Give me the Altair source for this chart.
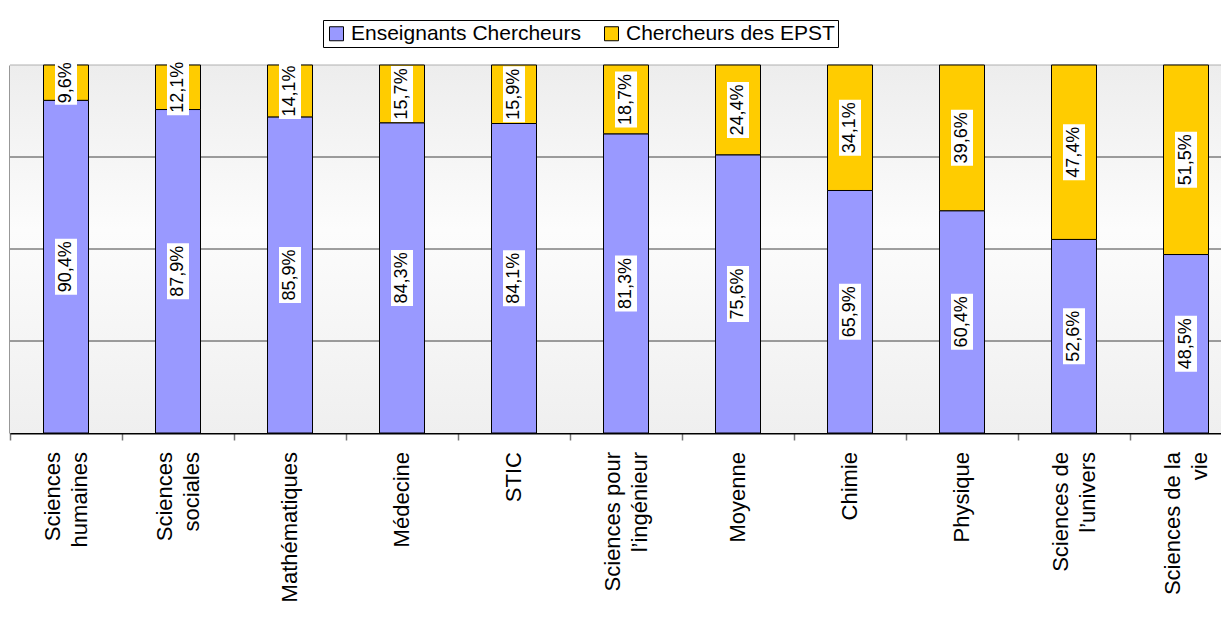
import altair as alt
import pandas as pd

categories = [
    "Sciences\nhumaines", "Sciences\nsociales", "Mathématiques", "Médecine", "STIC",
    "Sciences pour\nl’ingénieur", "Moyenne", "Chimie", "Physique",
    "Sciences de\nl’univers", "Sciences de la\nvie",
]
enseignants = [90.4, 87.9, 85.9, 84.3, 84.1, 81.3, 75.6, 65.9, 60.4, 52.6, 48.5]
epst = [9.6, 12.1, 14.1, 15.7, 15.9, 18.7, 24.4, 34.1, 39.6, 47.4, 51.5]
series = ["Enseignants Chercheurs", "Chercheurs des EPST"]
colors = ["#9999FF", "#FFCC00"]
grid_values = [25, 50, 75]

rows = []
for c, a, b in zip(categories, enseignants, epst):
    for k, (s, v) in enumerate(zip(series, [a, b])):
        rows.append({"cat": c, "series": s, "order": k, "value": v,
                     "label": f"{v:.1f}".replace(".", ",") + "%"})
df = pd.DataFrame(rows)
cat_df = pd.DataFrame({"cat": categories})

W, H = 1211, 368

xscale = alt.Scale(domain=categories, range=[0, 1232], paddingInner=0, paddingOuter=0)
yscale = alt.Scale(domain=[0, 100], nice=False)
xaxis = alt.Axis(title=None, labels=False, tickBand="extent",
                 tickSize=7, tickColor="#777777", tickWidth=1.5, domainColor="black",
                 domainWidth=2, grid=False)
yaxis = alt.Axis(title=None, labels=False, ticks=False, grid=False,
                 domainColor="#333333", domainWidth=2)

x_enc = alt.X("cat:N", scale=xscale, axis=xaxis)

gradient = alt.LinearGradient(
    gradient="linear",
    stops=[alt.GradientStop(offset=0, color="#ededed"),
           alt.GradientStop(offset=0.45, color="#fcfcfc"),
           alt.GradientStop(offset=1, color="#efefef")],
    x1=0, x2=0, y1=0, y2=1,
)

bg = alt.Chart(alt.Data(values=[{"a": 1}])).mark_rect(color=gradient).encode(
    x=alt.value(0), x2=alt.value(W), y=alt.value(0), y2=alt.value(H)
)
top_border = alt.Chart(alt.Data(values=[{"a": 1}])).mark_rule(color="#b0b0b0", strokeWidth=1).encode(
    y=alt.value(0)
)
grid = alt.Chart(pd.DataFrame({"g": grid_values})).mark_rule(color="#404040", strokeWidth=1).encode(
    y=alt.Y("g:Q", scale=yscale, axis=yaxis)
)

base = alt.Chart(df)

bars = base.mark_bar(stroke="black", strokeWidth=1, size=45).encode(
    x=x_enc,
    y=alt.Y("value:Q", stack="zero", scale=yscale, axis=yaxis),
    color=alt.Color("series:N", scale=alt.Scale(domain=series, range=colors),
                    legend=alt.Legend(title=None, orient="none", legendX=313, legendY=-45,
                                      direction="horizontal", symbolType="square",
                                      symbolSize=196, symbolStrokeColor="black",
                                      symbolStrokeWidth=1, symbolOpacity=1,
                                      labelFontSize=21, labelColor="black", labelLimit=0,
                                      strokeColor="black", fillColor="white",
                                      padding=3, columnPadding=20, labelOffset=4)),
    order=alt.Order("order:Q"),
)

mid = base.transform_stack(
    stack="value", groupby=["cat"], as_=["y0", "y1"], sort=[alt.SortField("order")]
).transform_calculate(mid="(datum.y0 + datum.y1) / 2")

path5 = "M-0.393,-1L0.393,-1L0.393,1L-0.393,1Z"
path4 = "M-0.5,-1L0.5,-1L0.5,1L-0.5,1Z"
boxes = mid.mark_point(filled=True, color="white", opacity=1, strokeWidth=0).encode(
    x=x_enc,
    y=alt.Y("mid:Q", scale=yscale, axis=yaxis),
    shape=alt.condition("length(datum.label) > 4", alt.value(path5), alt.value(path4)),
    size=alt.condition("length(datum.label) > 4", alt.value(3136), alt.value(1936)),
)
labels = mid.mark_text(angle=270, fontSize=18, color="black").encode(
    x=x_enc,
    y=alt.Y("mid:Q", scale=yscale, axis=yaxis),
    text="label:N",
)

cat_base = alt.Chart(cat_df)
label_style = dict(angle=270, align="right", baseline="middle", fontSize=22,
                   lineHeight=27, lineBreak="\n", color="black")
cat_single = cat_base.transform_filter("indexof(datum.cat, '\\n') < 0").mark_text(
    **label_style
).encode(x=x_enc, y=alt.value(H + 19), text="cat:N")
cat_double = cat_base.transform_filter("indexof(datum.cat, '\\n') >= 0").mark_text(
    dy=-13.5, **label_style
).encode(x=x_enc, y=alt.value(H + 19), text="cat:N")

chart = alt.layer(bg, grid, top_border, bars, boxes, labels, cat_single, cat_double).properties(
    width=W, height=H,
    autosize=alt.AutoSizeParams(type="none"),
    padding={"left": 2, "top": 57, "right": 0, "bottom": 170},
).configure(font="Liberation Sans").configure_view(stroke=None)

chart.save("out.html", embed_options={"renderer": "svg", "actions": False})
